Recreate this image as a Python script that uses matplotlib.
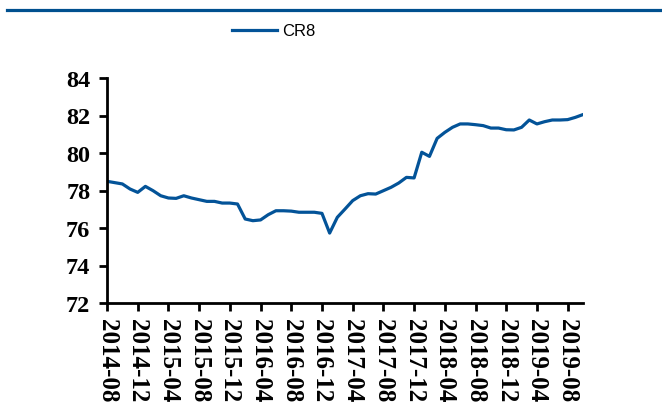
import numpy as np
import pandas as pd
import matplotlib
matplotlib.use('Agg')
import matplotlib.pyplot as plt
from matplotlib.lines import Line2D

# monthly CR8, 2014-08 .. 2019-10
months = pd.period_range('2014-08', '2019-10', freq='M').strftime('%Y-%m').tolist()
cr8 = [78.49, 78.42, 78.35, 78.08, 77.90, 78.22, 77.99, 77.72, 77.60, 77.58,
       77.72, 77.60, 77.51, 77.42, 77.42, 77.33, 77.33, 77.28, 76.48, 76.39,
       76.43, 76.71, 76.92, 76.92, 76.90, 76.84, 76.84, 76.84, 76.78, 75.73,
       76.57, 77.01, 77.46, 77.72, 77.83, 77.81, 77.99, 78.17, 78.40, 78.70,
       78.67, 80.04, 79.82, 80.78, 81.10, 81.37, 81.55, 81.55, 81.51, 81.46,
       81.33, 81.33, 81.24, 81.23, 81.37, 81.76, 81.55, 81.67, 81.76, 81.76,
       81.78, 81.90, 82.05]
y_ticks = [72, 74, 76, 78, 80, 82, 84]

blue = '#035398'
serif = ['Liberation Serif', 'DejaVu Serif']
W, H = 662, 414
fig = plt.figure(figsize=(W / 100, H / 100), dpi=100)
ax = fig.add_axes([107 / W, 1 - 304 / H, (583 - 107) / W, (304 - 79) / H])

x = np.arange(len(months))
ax.plot(x, cr8, color=blue, lw=2.3, label='CR8', solid_joinstyle='round')

ax.set_xlim(0, len(months) - 1)
ax.set_ylim(72, 84)
ax.set_yticks(y_ticks)
ax.set_xticks(x[::4])
ax.set_xticklabels(months[::4], rotation=270, ha='center', va='top')

for lab in ax.get_xticklabels():
    lab.set_fontfamily(serif)
    lab.set_fontweight('bold')
    lab.set_fontsize(18)
for lab in ax.get_yticklabels():
    lab.set_fontfamily(serif)
    lab.set_fontweight('bold')
    lab.set_fontsize(17.5)

for s in ['top', 'right']:
    ax.spines[s].set_visible(False)
for s in ['left', 'bottom']:
    ax.spines[s].set_linewidth(2)
    ax.spines[s].set_color('black')
ax.tick_params(axis='both', direction='out', length=6, width=2, color='black')
ax.tick_params(axis='y', pad=6)
ax.tick_params(axis='x', pad=5)

# header rule
fig.add_artist(Line2D([7 / W, 1.0], [1 - 10.5 / H] * 2, color='#00508f', lw=2.3))

leg = fig.legend(loc='center left', bbox_to_anchor=(232 / W, 1 - 32 / H),
                 frameon=False, borderpad=0, borderaxespad=0,
                 handlelength=2.7, handletextpad=0.3,
                 prop={'family': ['Liberation Sans Narrow', 'Liberation Sans', 'DejaVu Sans'],
                       'size': 12})

fig.savefig('out.png', dpi=100)
